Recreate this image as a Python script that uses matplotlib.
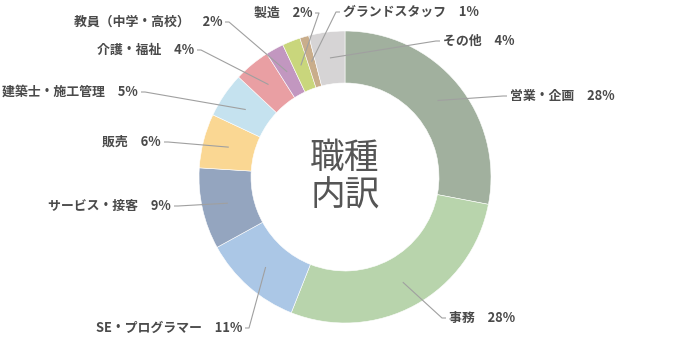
"""Donut chart of job category breakdown (職種内訳)."""

import numpy as np
import matplotlib.pyplot as plt

plt.rcParams["font.family"] = ["Noto Sans CJK JP", "DejaVu Sans"]

# ── Data ────────────────────────────────────────────────────────────────
categories = [
    "営業・企画", "事務", "SE・プログラマー", "サービス・接客", "販売",
    "建築士・施工管理", "介護・福祉", "教員（中学・高校）", "製造",
    "グランドスタッフ", "その他",
]
shares = [28, 28, 11, 9, 6, 5, 4, 2, 2, 1, 4]
colors = [
    "#a1b09e", "#b8d4ac", "#abc7e6", "#94a5bf", "#fad793",
    "#c5e2ef", "#e99fa3", "#c297c0", "#c9d67c", "#c9ad8b", "#d6d4d5",
]

# ── Layout (pixel units, y measured from top) ───────────────────────────
W, H = 692, 353
CX, CY = 345, 177
R_OUT, R_IN = 146, 94
TEXT_COLOR = "#4a4a4a"
LINE_COLOR = "#a0a0a0"

# label anchor (x, y from top, alignment)
label_pos = [
    (510, 96, "left"),
    (449, 318, "left"),
    (242, 328, "right"),
    (171, 206, "right"),
    (161, 142, "right"),
    (138, 92, "right"),
    (194, 50, "right"),
    (222, 22, "right"),
    (312, 13, "right"),
    (343, 12, "left"),
    (443, 41, "left"),
]

fig = plt.figure(figsize=(W / 100, H / 100), dpi=100)
ax = fig.add_axes([0, 0, 1, 1])

cy = H - CY
wedges, _ = ax.pie(
    shares,
    colors=colors,
    startangle=90,
    counterclock=False,
    center=(CX, cy),
    radius=R_OUT,
    wedgeprops=dict(width=R_OUT - R_IN, edgecolor="white", linewidth=0.4),
)
ax.set_xlim(0, W)
ax.set_ylim(0, H)
ax.set_aspect("equal")
ax.axis("off")

r_mid = (R_OUT + R_IN) / 2
for w, name, val, (lx, ly, ha) in zip(wedges, categories, shares, label_pos):
    ang = np.deg2rad((w.theta1 + w.theta2) / 2)
    sx = CX + r_mid * np.cos(ang)
    sy = cy + r_mid * np.sin(ang)
    ty = H - ly
    ex = lx - 3 if ha == "left" else lx + 3
    bx = ex - 4 if ha == "left" else ex + 4
    ax.plot([sx, bx, ex], [sy, ty, ty], color=LINE_COLOR, lw=0.8,
            solid_capstyle="butt")
    ax.text(lx, ty, f"{name}　{val}%", ha=ha, va="center", fontsize=9.3,
            fontweight="bold", color=TEXT_COLOR)

ax.text(CX, cy, "職種\n内訳", ha="center", va="center", fontsize=25,
        color="#555555", linespacing=1.1)

fig.savefig("out.png", dpi=100)
